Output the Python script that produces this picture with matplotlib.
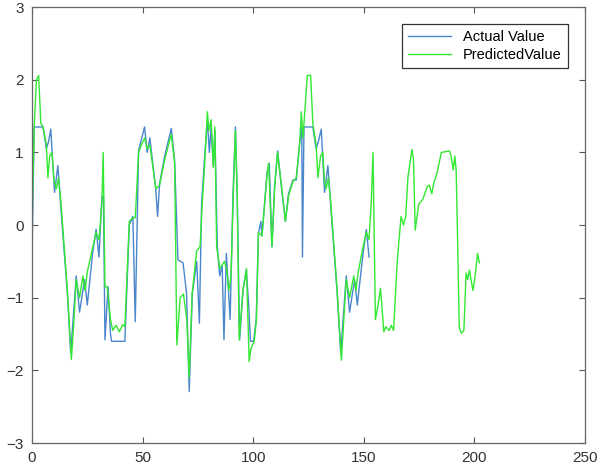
import matplotlib

matplotlib.use("Agg")
import matplotlib.pyplot as plt

# Actual series (blue)
actual_x = [0, 1, 5, 6.5, 7.5, 8.5, 10.2, 11.7, 12.9, 16, 17.5, 20, 21.5, 23.8, 25, 27.4, 29, 30.3,
            31.6, 32.3, 33, 34.4, 35.5, 36, 42, 44, 45.6, 46.7, 48.2, 49.4, 50.9, 52.1, 53.3, 56,
            56.8, 57.7, 60, 63, 64.5, 66, 68.3, 69.9, 71.1, 72.5, 74.5, 75.7, 76.7, 78, 79.3, 80.2,
            81, 82, 82.7, 83.8, 84.9, 86, 86.8, 87.9, 89.6, 90.9, 92, 92.8, 93.9, 95.4, 96.9, 98,
            98.8, 100.2, 101.4, 102.4, 103.5, 104, 106.3, 107.3, 108.5, 109.7, 111.1, 112.6, 114.6,
            116, 118, 119.5, 121, 122, 122.3, 123, 127, 128.5, 129.5, 130.8, 132.3, 133.8, 135, 138,
            139.6, 142.1, 143.6, 145.9, 147.1, 149.7, 151.2, 152.4]
actual_y = [-0.45, 1.35, 1.35, 1.05, 1.15, 1.32, 0.45, 0.82, 0.3, -0.94, -1.76, -0.7, -1.2, -0.75,
            -1.1, -0.39, -0.06, -0.44, 0.39, 0.4, -1.58, -0.85, -1.5, -1.6, -1.6, 0.0, 0.12, -1.33,
            1.03, 1.17, 1.35, 1.0, 1.2, 0.48, 0.12, 0.57, 0.95, 1.33, 0.89, -0.48, -0.52, -0.94,
            -2.29, -0.94, -0.5, -1.35, 0.3, 0.9, 1.45, 1.0, 1.35, 0.8, 1.3, -0.3, -0.7, -0.55, -1.58,
            -0.39, -1.3, 0.43, 1.35, 0.43, -1.58, -0.9, -0.62, -1.1, -1.6, -1.6, -1.3, -0.11, 0.05,
            -0.15, 0.72, 0.85, -0.3, 0.53, 1.02, 0.57, 0.05, 0.43, 0.62, 0.62, 1.12, 1.35, -0.44,
            1.35, 1.35, 1.05, 1.15, 1.32, 0.45, 0.82, 0.3, -0.94, -1.76, -0.7, -1.2, -0.75, -1.1,
            -0.39, -0.06, -0.44]

# Predicted series (green)
pred_x = [0, 1, 2, 3, 4, 5, 6.5, 7.2, 8, 9, 10, 11, 12, 13, 16, 17.8, 19, 20, 21.5, 23, 24, 25,
          27.5, 29, 30.3, 31.6, 32.2, 33, 34, 35.5, 36.5, 38, 39.5, 41, 42, 44, 45.6, 46.7, 48.2,
          49.4, 51, 52, 53.3, 56, 57.7, 60, 63, 64.5, 65.5, 67, 68.5, 70, 71.1, 72.4, 74.5, 76, 77,
          78, 79.3, 80, 81, 82, 82.7, 83.5, 85, 87, 88, 89, 90, 91, 92, 92.8, 93.7, 95.4, 97, 98.2,
          99, 100.5, 101.5, 102.4, 104, 106.3, 107, 108.5, 109.7, 111, 112.6, 114.6, 116, 118,
          119.5, 121, 121.8, 122.5, 123, 124.5, 126, 127, 128.5, 129.3, 130.5, 131.5, 132.3, 133,
          134, 135, 138, 139.9, 141, 142.1, 143.6, 145.5, 146.5, 147.5, 149.7, 151.2, 152.4, 153.4,
          154.2, 155.3, 156.5, 157.6, 159.1, 160, 161.5, 162.5, 163.5, 165.2, 166.9, 168, 169, 170,
          171.8, 172.5, 173.3, 174.8, 176.8, 178.7, 179.7, 180.8, 181.7, 183.2, 185.1, 188.8,
          189.5, 190.5, 191.2, 191.8, 192.4, 193.2, 194.1, 195.3, 196.3, 197, 197.8, 199.4, 200.4,
          201.5, 202.3]
pred_y = [0.0, 1.35, 2.0, 2.06, 1.4, 1.35, 1.1, 0.65, 0.95, 1.0, 0.6, 0.5, 0.65, 0.35, -0.9, -1.85,
          -1.3, -0.75, -1.0, -0.7, -0.9, -0.65, -0.3, -0.1, -0.2, 0.3, 1.0, -0.85, -0.85, -1.3,
          -1.45, -1.38, -1.47, -1.37, -1.4, 0.05, 0.1, 0.1, 1.0, 1.1, 1.2, 1.05, 1.1, 0.5, 0.55, 0.9,
          1.25, 0.85, -1.65, -1.0, -0.95, -1.3, -2.1, -0.95, -0.35, -0.3, 0.3, 0.8, 1.56, 1.3, 1.45,
          0.8, 1.35, -0.3, -0.6, -0.5, -0.6, -0.9, -0.7, 0.4, 1.3, 0.4, -1.58, -0.9, -0.6, -1.88,
          -1.7, -1.6, -1.3, -0.1, -0.15, 0.7, 0.85, -0.3, 0.5, 1.0, 0.6, 0.05, 0.4, 0.6, 0.65, 1.1,
          1.56, 1.2, 1.4, 2.06, 2.06, 1.4, 1.1, 0.65, 0.95, 1.0, 0.6, 0.5, 0.65, 0.35, -0.9, -1.86,
          -1.3, -0.75, -1.0, -0.7, -0.9, -0.65, -0.3, -0.1, -0.2, 0.3, 1.0, -1.3, -1.1, -0.87,
          -1.47, -1.4, -1.45, -1.38, -1.45, -0.48, 0.12, 0.0, 0.12, 0.66, 1.04, 0.9, -0.07, 0.28,
          0.36, 0.53, 0.55, 0.43, 0.58, 0.72, 1.0, 1.02, 0.95, 0.76, 0.95, 0.76, -0.11, -1.4, -1.49,
          -1.45, -0.66, -0.75, -0.62, -0.9, -0.7, -0.39, -0.52]

x_ticks = [0, 50, 100, 150, 200, 250]
y_ticks = [-3, -2, -1, 0, 1, 2, 3]

plt.rcParams["font.family"] = ["Liberation Sans", "DejaVu Sans"]

fig = plt.figure(figsize=(5.98, 4.74), dpi=100)
ax = fig.add_axes([0.0535, 0.0654, 0.9245, 0.9196])

ax.plot(actual_x, actual_y, color="#4a86cc", linewidth=1.0, label="Actual Value")
ax.plot(pred_x, pred_y, color="#33e833", linewidth=1.0, label="PredictedValue")

ax.set_xlim(0, 250)
ax.set_ylim(-3, 3)
ax.set_xticks(x_ticks)
ax.set_yticks(y_ticks)
ax.tick_params(direction="in", top=True, right=True, length=4, width=0.8,
               labelsize=11, colors="#555555", labelcolor="#333333", pad=6)
for s in ax.spines.values():
    s.set_color("#666666")
    s.set_linewidth(0.9)

leg = ax.legend(loc="upper right", bbox_to_anchor=(0.969, 0.961), borderaxespad=0,
                fontsize=10.5, fancybox=False, framealpha=1, edgecolor="#333333",
                handlelength=3.0, borderpad=0.4, labelspacing=0.3)
leg.get_frame().set_linewidth(0.9)

fig.savefig("out.png", dpi=100)
